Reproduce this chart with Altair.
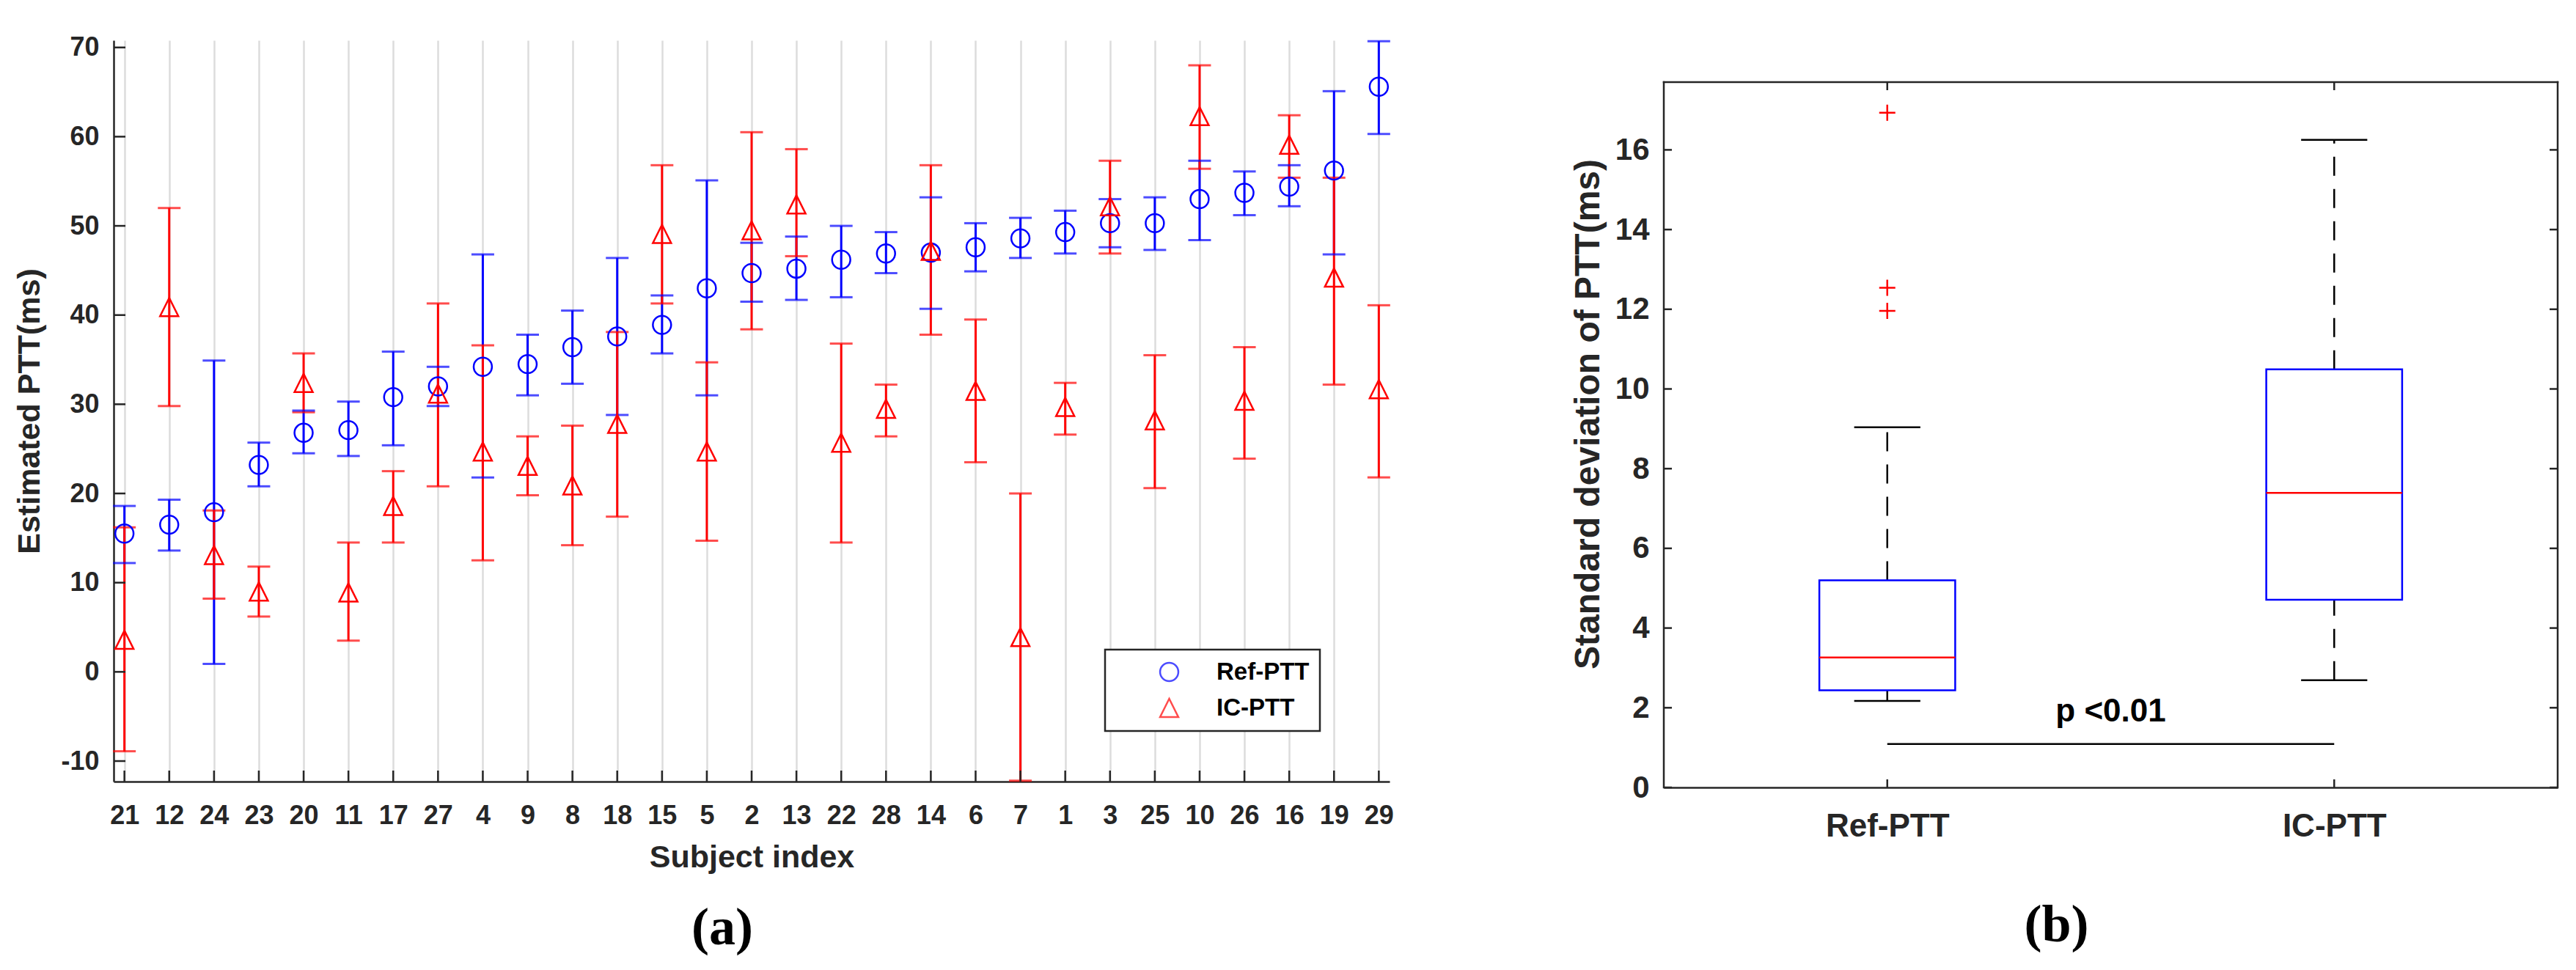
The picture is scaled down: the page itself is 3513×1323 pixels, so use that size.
import altair as alt
import pandas as pd

# ---------------- data: panel (a) ----------------
subjects = [21, 12, 24, 23, 20, 11, 17, 27, 4, 9, 8, 18, 15, 5, 2, 13, 22, 28, 14, 6, 7, 1, 3, 25, 10, 26, 16, 19, 29]
ref_mean = [15.5, 16.5, 17.9, 23.2, 26.8, 27.1, 30.8, 32.0, 34.2, 34.5, 36.4, 37.6, 38.9, 43.0, 44.7, 45.2, 46.2, 46.9, 47.0, 47.6, 48.6, 49.3, 50.3, 50.3, 53.0, 53.7, 54.4, 56.2, 65.6]
ref_low = [12.2, 13.6, 0.9, 20.8, 24.5, 24.2, 25.4, 29.8, 21.8, 31.0, 32.3, 28.8, 35.7, 31.0, 41.5, 41.7, 42.0, 44.7, 40.7, 44.9, 46.4, 46.9, 47.6, 47.3, 48.4, 51.2, 52.2, 46.8, 60.3]
ref_high = [18.6, 19.3, 34.9, 25.7, 29.3, 30.3, 35.9, 34.2, 46.8, 37.8, 40.5, 46.4, 42.2, 55.1, 48.1, 48.8, 50.0, 49.3, 53.2, 50.3, 50.9, 51.7, 53.0, 53.2, 57.3, 56.1, 56.8, 65.1, 70.7]
ic_mean = [3.6, 40.9, 13.1, 9.0, 32.4, 8.9, 18.6, 31.2, 24.7, 23.1, 20.9, 27.8, 49.1, 24.7, 49.5, 52.4, 25.7, 29.5, 47.2, 31.5, 3.9, 29.7, 52.2, 28.2, 62.3, 30.4, 59.1, 44.2, 31.7]
ic_low = [-8.9, 29.8, 8.2, 6.2, 29.1, 3.5, 14.5, 20.8, 12.5, 19.8, 14.2, 17.4, 41.3, 14.7, 38.4, 46.6, 14.5, 26.4, 37.8, 23.5, -12.2, 26.6, 46.9, 20.6, 56.4, 23.9, 55.4, 32.2, 21.8]
ic_high = [16.2, 52.0, 18.1, 11.8, 35.7, 14.5, 22.5, 41.3, 36.6, 26.4, 27.6, 38.1, 56.8, 34.7, 60.5, 58.6, 36.8, 32.2, 56.8, 39.5, 20.0, 32.4, 57.3, 35.5, 68.0, 36.4, 62.4, 55.4, 41.1]
series_names = ["Ref-PTT", "IC-PTT"]
series_colors = ["#0000ff", "#ff0000"]
y_ticks_a = [-10, 0, 10, 20, 30, 40, 50, 60, 70]

# ---------------- data: panel (b) ----------------
box_labels = ["Ref-PTT", "IC-PTT"]
box_positions = [1, 2]
box_whisker_low = [2.17, 2.69]
box_q1 = [2.44, 4.71]
box_median = [3.26, 7.39]
box_q3 = [5.20, 10.49]
box_whisker_high = [9.04, 16.25]
outlier_positions = [1, 1, 1]
outlier_values = [16.93, 12.54, 11.96]
y_ticks_b = [0, 2, 4, 6, 8, 10, 12, 14, 16]
p_text = "p <0.01"
p_bar_y = 1.09
p_text_y = 1.9

# ---------------- layout / style ----------------
FONT = "Liberation Sans"
SERIF = "Liberation Serif"
TXT = "#262626"
W_A, H_A = 1740, 1011
W_B, H_B = 1219, 1019
B_TOP_GAP = 57
Y_DOM_A = [-12.3, 70.8]
YB_FRAME = 17.7
YB_MAX = YB_FRAME * H_B / (H_B - B_TOP_GAP)
XB_DOM = [0.5, 2.5]
BOX_HALF = 0.152
CAP_HALF = 0.074
TICK_A = 16
TICK_B = 11
TRI = "M0,-1L-1,1L1,1Z"
PLUS = "M-1,0L1,0M0,-1L0,1"

# ---------------- panel (a) ----------------
color_of = dict(zip(series_names, series_colors))
rows = []
for name, m, lo, hi in [("Ref-PTT", ref_mean, ref_low, ref_high), ("IC-PTT", ic_mean, ic_low, ic_high)]:
    for i, s in enumerate(subjects):
        rows.append(dict(subject=str(s), series=name, col=color_of[name], mean=m[i], low=lo[i], high=hi[i]))
df_a = pd.DataFrame(rows)
sub_labels = [str(s) for s in subjects]

x_scale_a = alt.Scale(type="point", domain=sub_labels, padding=0.24)
x_axis_a = alt.Axis(title="Subject index", grid=True, gridColor="#dcdcdc", gridWidth=2.5,
                    tickSize=0, labelPadding=29, labelAngle=0, labelOverlap=False,
                    labelFont=FONT, labelFontSize=36, labelFontWeight="bold", labelColor=TXT,
                    titleFont=FONT, titleFontSize=43, titleFontWeight="bold", titleColor=TXT,
                    titlePadding=18, domainColor=TXT, domainWidth=2.5)
y_scale_a = alt.Scale(domain=Y_DOM_A, nice=False, zero=False)
y_axis_a = alt.Axis(title="Estimated PTT(ms)", values=y_ticks_a, grid=False, tickSize=0,
                    labelPadding=20,
                    labelExpr="datum.value < 0 ? '-' + abs(datum.value) : datum.label",
                    labelFont=FONT, labelFontSize=36, labelFontWeight="bold", labelColor=TXT,
                    titleFont=FONT, titleFontSize=43, titleFontWeight="bold", titleColor=TXT,
                    titlePadding=20, domainColor=TXT, domainWidth=2.5)

legend_a = alt.Legend(title=None, orient="none", legendX=1352, legendY=831, padding=14,
                      fillColor="white", strokeColor=TXT, symbolOffset=57, labelOffset=48,
                      rowPadding=14, labelFont=FONT, labelFontSize=33, labelFontWeight="bold",
                      labelColor="black", symbolSize=620, symbolStrokeWidth=2.5,
                      symbolFillColor="white", symbolOpacity=1)

color_scale = alt.Scale(domain=series_names, range=series_colors)
X_A = alt.X("subject:N", scale=x_scale_a, axis=x_axis_a, sort=sub_labels)

def ya(field):
    return alt.Y(field, type="quantitative", scale=y_scale_a, axis=y_axis_a)

base_a = alt.Chart(df_a)
err = base_a.mark_rule(strokeWidth=3).encode(
    x=X_A, y=ya("low"), y2="high", color=alt.Color("col:N", scale=None))
cap_lo = base_a.mark_tick(size=31, thickness=3).encode(
    x=X_A, y=ya("low"), color=alt.Color("col:N", scale=None))
cap_hi = base_a.mark_tick(size=31, thickness=3).encode(
    x=X_A, y=ya("high"), color=alt.Color("col:N", scale=None))
points = base_a.mark_point(filled=False, strokeWidth=2.5, size=620, opacity=1).encode(
    x=X_A, y=ya("mean"),
    color=alt.Color("series:N", scale=color_scale, legend=legend_a),
    shape=alt.Shape("series:N", scale=alt.Scale(domain=series_names, range=["circle", TRI]), legend=legend_a),
)

ytick_a = alt.Chart(pd.DataFrame({"v": y_ticks_a})).mark_rule(color=TXT, strokeWidth=2.5).encode(
    y=ya("v"), x=alt.value(0), x2=alt.value(TICK_A))
xtick_a = alt.Chart(pd.DataFrame({"subject": sub_labels})).mark_rule(color=TXT, strokeWidth=2.5).encode(
    x=X_A, y=alt.value(H_A), y2=alt.value(H_A - 15))

chart_a = alt.layer(err, cap_lo, cap_hi, points, ytick_a, xtick_a).properties(
    width=W_A, height=H_A,
    title=alt.TitleParams(text="(a)", orient="bottom", font=SERIF, fontSize=72,
                          fontWeight="bold", color="black", dx=-40, offset=40),
)

# ---------------- panel (b) ----------------
x_scale_b = alt.Scale(domain=XB_DOM, nice=False, zero=False)
label_list = "[" + ",".join("'%s'" % l for l in box_labels) + "]"
x_axis_b = alt.Axis(values=box_positions, labelExpr=label_list + "[round(datum.value) - 1]",
                    title=None, tickSize=0, grid=False, labelPadding=31,
                    labelFont=FONT, labelFontSize=44, labelFontWeight="bold", labelColor=TXT,
                    domainColor=TXT, domainWidth=2.5)
y_scale_b = alt.Scale(domain=[0, YB_MAX], nice=False, zero=False)
y_axis_b = alt.Axis(values=y_ticks_b, domain=False, tickSize=0, grid=False, labelPadding=20,
                    title="Standard deviation of PTT(ms)", titlePadding=12,
                    labelFont=FONT, labelFontSize=42, labelFontWeight="bold", labelColor=TXT,
                    titleFont=FONT, titleFontSize=48, titleFontWeight="bold", titleColor=TXT)

def xb(field):
    return alt.X(field, type="quantitative", scale=x_scale_b, axis=x_axis_b)

def yb(field):
    return alt.Y(field, type="quantitative", scale=y_scale_b, axis=y_axis_b)

df_b = pd.DataFrame({
    "label": box_labels, "pos": box_positions, "lo": box_whisker_low, "q1": box_q1,
    "med": box_median, "q3": box_q3, "hi": box_whisker_high,
})
df_b["xl"] = df_b["pos"] - BOX_HALF
df_b["xr"] = df_b["pos"] + BOX_HALF
df_b["cl"] = df_b["pos"] - CAP_HALF
df_b["cr"] = df_b["pos"] + CAP_HALF

px_x = W_B / (XB_DOM[1] - XB_DOM[0])
px_y = H_B / YB_MAX
frame_df = pd.DataFrame({
    "x": [XB_DOM[0], XB_DOM[0], XB_DOM[1]],
    "x2": [XB_DOM[1], XB_DOM[0], XB_DOM[1]],
    "y": [YB_FRAME, 0, 0],
    "y2": [YB_FRAME, YB_FRAME, YB_FRAME],
})
tick_rows = []
for v in y_ticks_b:
    tick_rows.append(dict(x=XB_DOM[0], x2=XB_DOM[0] + TICK_B / px_x, y=v, y2=v))
    tick_rows.append(dict(x=XB_DOM[1] - TICK_B / px_x, x2=XB_DOM[1], y=v, y2=v))
for p in box_positions:
    tick_rows.append(dict(x=p, x2=p, y=0, y2=TICK_B / px_y))
    tick_rows.append(dict(x=p, x2=p, y=YB_FRAME - TICK_B / px_y, y2=YB_FRAME))
ticks_df = pd.DataFrame(tick_rows)

frame = alt.Chart(frame_df).mark_rule(color=TXT, strokeWidth=2.5, strokeCap="square").encode(
    x=xb("x"), x2="x2", y=yb("y"), y2="y2")
ticks_b = alt.Chart(ticks_df).mark_rule(color=TXT, strokeWidth=2.5).encode(
    x=xb("x"), x2="x2", y=yb("y"), y2="y2")

base_b = alt.Chart(df_b)
whisk_up = base_b.mark_rule(color="black", strokeWidth=2.5, strokeDash=[26, 18]).encode(
    x=xb("pos"), y=yb("q3"), y2="hi")
whisk_dn = base_b.mark_rule(color="black", strokeWidth=2.5, strokeDash=[26, 18]).encode(
    x=xb("pos"), y=yb("lo"), y2="q1")
cap_up = base_b.mark_rule(color="black", strokeWidth=2.5).encode(x=xb("cl"), x2="cr", y=yb("hi"))
cap_dn = base_b.mark_rule(color="black", strokeWidth=2.5).encode(x=xb("cl"), x2="cr", y=yb("lo"))
boxes = base_b.mark_rect(filled=False, color="#0000ff", strokeWidth=2.5).encode(
    x=xb("xl"), x2="xr", y=yb("q1"), y2="q3")
medians = base_b.mark_rule(color="#ff0000", strokeWidth=2.5).encode(x=xb("xl"), x2="xr", y=yb("med"))
outliers = alt.Chart(pd.DataFrame({"pos": outlier_positions, "v": outlier_values})).mark_point(
    shape=PLUS, filled=False, color="#ff0000", size=484, strokeWidth=2.5, opacity=1).encode(x=xb("pos"), y=yb("v"))
p_df = pd.DataFrame({"x": [box_positions[0]], "x2": [box_positions[1]], "y": [p_bar_y],
                     "tx": [(box_positions[0] + box_positions[1]) / 2], "ty": [p_text_y], "t": [p_text]})
p_bar = alt.Chart(p_df).mark_rule(color="black", strokeWidth=2.5).encode(x=xb("x"), x2="x2", y=yb("y"))
p_lab = alt.Chart(p_df).mark_text(font=FONT, fontSize=44, fontWeight="bold", color="black",
                                  baseline="middle", align="center").encode(x=xb("tx"), y=yb("ty"), text="t:N")

chart_b = alt.layer(frame, ticks_b, whisk_up, whisk_dn, cap_up, cap_dn, boxes, medians,
                    outliers, p_bar, p_lab).properties(
    width=W_B, height=H_B,
    title=alt.TitleParams(text="(b)", orient="bottom", font=SERIF, fontSize=72,
                          fontWeight="bold", color="black", dx=-74, offset=78),
)

chart = alt.hconcat(chart_a, chart_b, spacing=374, bounds="flush").properties(
    padding={"left": 11, "top": 38, "right": 10, "bottom": 5},
    background="white",
).configure_view(stroke=None).configure_legend(strokeWidth=2.5)

chart.save("out.html", embed_options={"renderer": "svg", "actions": False})
